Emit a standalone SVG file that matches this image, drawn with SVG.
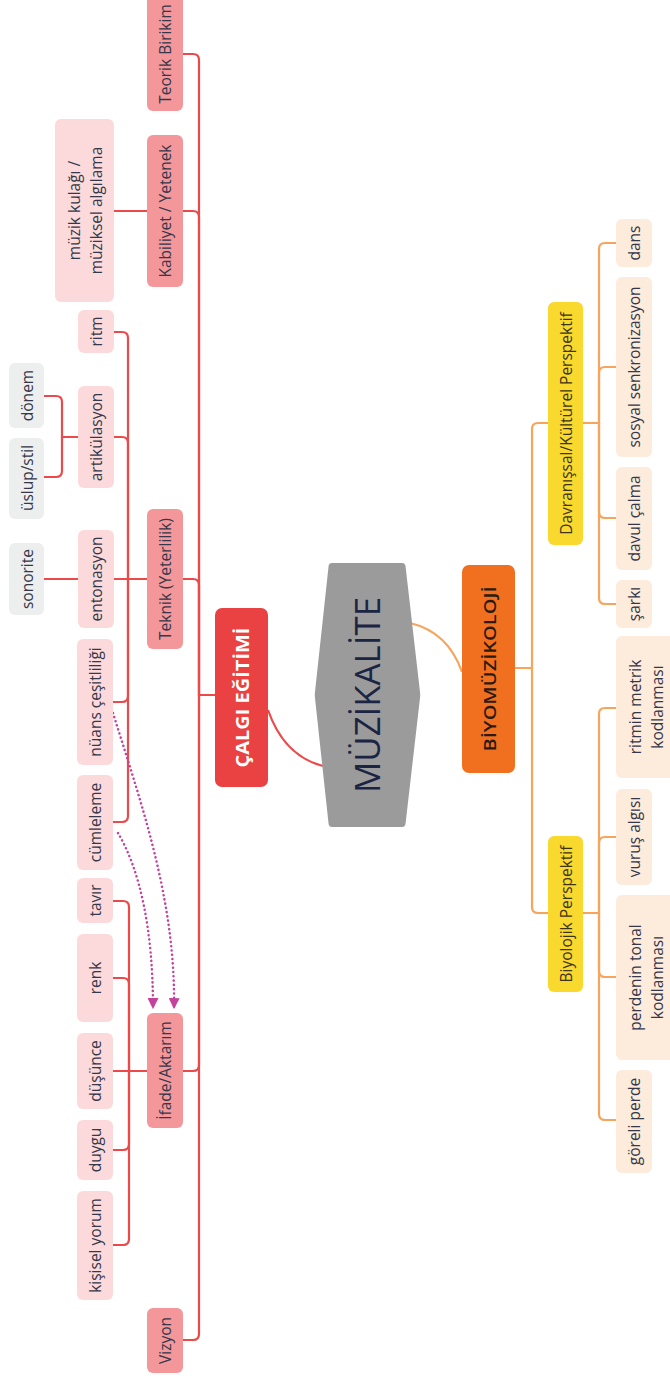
<svg xmlns="http://www.w3.org/2000/svg" width="670" height="1376" viewBox="0 0 670 1376">
<style>
text{font-family:"Open Sans","Noto Sans","Liberation Sans",sans-serif;font-size:15.5px;fill:#34384a;text-anchor:middle;dominant-baseline:central}
.l1{fill:#f4979b}
.l2{fill:#fcdadb}
.l3{fill:#edefee}
.ol{fill:#fdebdc}
.yl{fill:#f9d92e}
.red{fill:none;stroke:#ec4a4a;stroke-width:2.2}
.org{fill:none;stroke:#f7a45c;stroke-width:2.2}
.dot{fill:none;stroke:#c2429c;stroke-width:2.5;stroke-dasharray:0.1 4.2;stroke-linecap:round}
</style>
<defs>
<marker id="ah" viewBox="0 0 10 10" refX="9" refY="5" markerWidth="11" markerHeight="11" markerUnits="userSpaceOnUse" orient="auto">
<path d="M0,0 L10,5 L0,10 Z" fill="#c2429c"/>
</marker>
</defs>
<rect width="670" height="1376" fill="#ffffff"/>

<g id="connectors">
<path class="red" d="M215,695 H199 V60 Q199,54 193,54 H183"/>
<path class="red" d="M199,695 V217 Q199,211 193,211 H183"/>
<path class="red" d="M199,695 V585 Q199,579 193,579 H183"/>
<path class="red" d="M199,695 V1065 Q199,1071 193,1071 H183"/>
<path class="red" d="M199,695 V1334 Q199,1340 193,1340 H183"/>
<path class="red" d="M147,211 H114"/>
<path class="red" d="M147,579 H128 V338 Q128,332 122,332 H114"/>
<path class="red" d="M128,579 V443 Q128,437 122,437 H114"/>
<path class="red" d="M147,579 H114"/>
<path class="red" d="M128,579 V696 Q128,702 122,702 H113"/>
<path class="red" d="M128,579 V816 Q128,822 122,822 H113"/>
<path class="red" d="M78,437 H62 V402 Q62,396 56,396 H44"/>
<path class="red" d="M62,437 V471 Q62,477 56,477 H44"/>
<path class="red" d="M78,579 H44"/>
<path class="red" d="M147,1071 H129 V907 Q129,901 123,901 H113"/>
<path class="red" d="M129,1071 V984 Q129,978 123,978 H113"/>
<path class="red" d="M147,1071 H113"/>
<path class="red" d="M129,1071 V1144 Q129,1150 123,1150 H113"/>
<path class="red" d="M129,1071 V1239 Q129,1245 123,1245 H113"/>
<path class="red" stroke-width="2.6" d="M268,710 Q284,756 323,766"/>
<path class="org" stroke-width="2.6" d="M410,623 Q448,632 462,672"/>
<path class="org" d="M515,668 H532 V429 Q532,423 538,423 H548"/>
<path class="org" d="M532,668 V907 Q532,913 538,913 H548"/>
<path class="org" d="M583,423 H599 V249 Q599,243 605,243 H616"/>
<path class="org" d="M599,423 V373 Q599,367 605,367 H616"/>
<path class="org" d="M599,423 V512 Q599,518 605,518 H616"/>
<path class="org" d="M599,423 V598 Q599,604 605,604 H616"/>
<path class="org" d="M583,913 H599 V714 Q599,708 605,708 H616"/>
<path class="org" d="M599,913 V843 Q599,837 605,837 H616"/>
<path class="org" d="M599,913 V971 Q599,977 605,977 H616"/>
<path class="org" d="M599,913 V1114 Q599,1120 605,1120 H616"/>
<path class="dot" marker-end="url(#ah)" d="M113,713 C140,800 176,900 174,1008"/>
<path class="dot" marker-end="url(#ah)" d="M118,833 C140,870 153,930 153,1008"/>
</g>

<g id="muzikalite">
<path d="M332,563 H402 Q405,563 405.5,566 L420,692 Q420.4,695 420,698 L405.5,824 Q405,827 402,827 H332 Q329,827 328.6,824 L315,698 Q314.6,695 315,692 L328.6,566 Q329,563 332,563 Z" fill="#9b9b9b"/>
<text transform="translate(366,695) rotate(-90)" style="font-size:35px;fill:#1c2443" textLength="196" lengthAdjust="spacingAndGlyphs">MÜZİKALİTE</text>
</g>

<g id="calgi-egitimi">
<rect x="215" y="608" width="53" height="179" rx="7" fill="#ea4242"/>
<text transform="translate(242,697.5) rotate(-90)" style="font-size:18px;font-weight:bold;fill:#ffffff" textLength="140" lengthAdjust="spacingAndGlyphs">ÇALGI EĞİTİMİ</text>
</g>

<g id="biyomuzikoloji">
<rect x="462" y="565" width="53" height="208" rx="7" fill="#f07020"/>
<text transform="translate(489,669) rotate(-90)" style="font-size:17px;font-weight:600;fill:#2a1a12" textLength="165" lengthAdjust="spacingAndGlyphs">BİYOMÜZİKOLOJİ</text>
</g>

<g id="teorik-birikim">
<rect class="l1" x="147" y="-6" width="36" height="117" rx="6"/>
<text transform="translate(165,54) rotate(-90)">Teorik Birikim</text>
</g>
<g id="kabiliyet-yetenek">
<rect class="l1" x="147" y="135" width="36" height="152" rx="6"/>
<text transform="translate(165,211) rotate(-90)">Kabiliyet / Yetenek</text>
</g>
<g id="muzik-kulagi">
<rect class="l2" x="55" y="119" width="59" height="183" rx="6"/>
<text transform="translate(74,210.5) rotate(-90)">müzik kulağı /</text>
<text transform="translate(96,210.5) rotate(-90)">müziksel algılama</text>
</g>
<g id="teknik">
<rect class="l1" x="147" y="509" width="36" height="140" rx="6"/>
<text transform="translate(165,579) rotate(-90)">Teknik (Yeterlilik)</text>
</g>
<g id="ritm">
<rect class="l2" x="78" y="310" width="36" height="43" rx="6"/>
<text transform="translate(96,331.5) rotate(-90)">ritm</text>
</g>
<g id="artikulasyon">
<rect class="l2" x="78" y="386" width="36" height="102" rx="6"/>
<text transform="translate(96,437) rotate(-90)">artikülasyon</text>
</g>
<g id="donem">
<rect class="l3" x="9" y="363" width="35" height="65" rx="6"/>
<text transform="translate(26.5,395.5) rotate(-90)">dönem</text>
</g>
<g id="uslup-stil">
<rect class="l3" x="9" y="438" width="35" height="81" rx="6"/>
<text transform="translate(26.5,478) rotate(-90)">üslup/stil</text>
</g>
<g id="entonasyon">
<rect class="l2" x="78" y="530" width="36" height="98" rx="6"/>
<text transform="translate(96,579) rotate(-90)">entonasyon</text>
</g>
<g id="sonorite">
<rect class="l3" x="9" y="543" width="35" height="72" rx="6"/>
<text transform="translate(26.5,579) rotate(-90)">sonorite</text>
</g>
<g id="nuans">
<rect class="l2" x="77" y="639" width="36" height="126" rx="6"/>
<text transform="translate(95,702) rotate(-90)">nüans çeşitliliği</text>
</g>
<g id="cumleleme">
<rect class="l2" x="77" y="775" width="36" height="95" rx="6"/>
<text transform="translate(95,822.5) rotate(-90)">cümleleme</text>
</g>
<g id="tavir">
<rect class="l2" x="77" y="878" width="36" height="45" rx="6"/>
<text transform="translate(95,900.5) rotate(-90)">tavır</text>
</g>
<g id="renk">
<rect class="l2" x="77" y="934" width="36" height="88" rx="6"/>
<text transform="translate(95,978) rotate(-90)">renk</text>
</g>
<g id="dusunce">
<rect class="l2" x="77" y="1033" width="36" height="76" rx="6"/>
<text transform="translate(95,1071) rotate(-90)">düşünce</text>
</g>
<g id="duygu">
<rect class="l2" x="77" y="1120" width="36" height="60" rx="6"/>
<text transform="translate(95,1150) rotate(-90)">duygu</text>
</g>
<g id="kisisel-yorum">
<rect class="l2" x="77" y="1191" width="36" height="109" rx="6"/>
<text transform="translate(95,1245.5) rotate(-90)">kişisel yorum</text>
</g>
<g id="ifade-aktarim">
<rect class="l1" x="147" y="1013" width="36" height="115" rx="6"/>
<text transform="translate(165,1070.5) rotate(-90)">İfade/Aktarım</text>
</g>
<g id="vizyon">
<rect class="l1" x="147" y="1308" width="36" height="65" rx="6"/>
<text transform="translate(165,1340.5) rotate(-90)">Vizyon</text>
</g>

<g id="davranissal">
<rect class="yl" x="548" y="302" width="35" height="243" rx="6"/>
<text transform="translate(565.5,423.5) rotate(-90)" style="fill:#3d3418">Davranışsal/Kültürel Perspektif</text>
</g>
<g id="dans">
<rect class="ol" x="616" y="219" width="36" height="48" rx="6"/>
<text transform="translate(634,243) rotate(-90)">dans</text>
</g>
<g id="sosyal-senkronizasyon">
<rect class="ol" x="616" y="277" width="36" height="180" rx="6"/>
<text transform="translate(634,367) rotate(-90)">sosyal senkronizasyon</text>
</g>
<g id="davul-calma">
<rect class="ol" x="616" y="467" width="36" height="103" rx="6"/>
<text transform="translate(634,518.5) rotate(-90)">davul çalma</text>
</g>
<g id="sarki">
<rect class="ol" x="616" y="580" width="36" height="48" rx="6"/>
<text transform="translate(634,604) rotate(-90)">şarkı</text>
</g>
<g id="biyolojik">
<rect class="yl" x="548" y="836" width="35" height="156" rx="6"/>
<text transform="translate(565.5,914) rotate(-90)" style="fill:#3d3418">Biyolojik Perspektif</text>
</g>
<g id="ritmin-metrik">
<rect class="ol" x="616" y="636" width="60" height="142" rx="6"/>
<text transform="translate(635,707) rotate(-90)">ritmin metrik</text>
<text transform="translate(657,707) rotate(-90)">kodlanması</text>
</g>
<g id="vurus-algisi">
<rect class="ol" x="616" y="789" width="36" height="96" rx="6"/>
<text transform="translate(634,837) rotate(-90)">vuruş algısı</text>
</g>
<g id="perdenin-tonal">
<rect class="ol" x="616" y="895" width="60" height="165" rx="6"/>
<text transform="translate(635,977.5) rotate(-90)">perdenin tonal</text>
<text transform="translate(657,977.5) rotate(-90)">kodlanması</text>
</g>
<g id="goreli-perde">
<rect class="ol" x="616" y="1070" width="36" height="103" rx="6"/>
<text transform="translate(634,1121.5) rotate(-90)">göreli perde</text>
</g>
</svg>
